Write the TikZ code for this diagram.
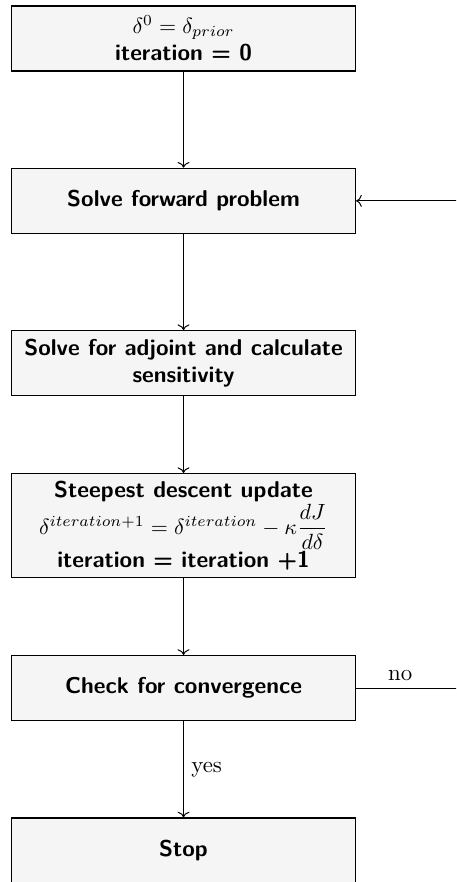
\documentclass[tikz,border=0pt]{standalone}
\usepackage{amsmath, amssymb}
\usepackage{tikz}
\usetikzlibrary{arrows.meta}

\begin{document}
\begin{tikzpicture}[
    font=\fontsize{10.4pt}{12.5pt}\selectfont,
    stepbox/.style={draw, line width=0.6pt, fill=black!4, text width=152pt, inner xsep=2.25pt,
                    minimum height=29.6pt, align=flush center, font=\fontsize{10.4pt}{12.5pt}\selectfont\sffamily\bfseries},
    flow/.style={->, line width=0.45pt}
]
    % frame of the page
    \useasboundingbox (0,0) rectangle (207.5pt,-401.3pt);
    \clip (0,0) rectangle (207.5pt,-401.3pt);

    % steps
    \node[stepbox] (init)  at (83.5pt,-17.5pt)  {$\delta^0 = \delta_{prior}$\\ iteration = 0};
    \node[stepbox] (fwd)   at (83.5pt,-91.4pt)  {Solve forward problem};
    \node[stepbox] (adj)   at (83.5pt,-165.3pt) {Solve for adjoint and calculate sensitivity};
    \node[stepbox] (upd)   at (83.5pt,-239.2pt) {Steepest descent update\\
        $\delta^{iteration+1} = \delta^{iteration} - \kappa\dfrac{dJ}{d\delta}$\\
        iteration = iteration +1};
    \node[stepbox] (check) at (83.5pt,-313.1pt) {Check for convergence};
    \node[stepbox] (stop)  at (83.5pt,-387.0pt) {Stop};

    % flow
    \draw[flow] (init) -- (fwd);
    \draw[flow] (fwd) -- (adj);
    \draw[flow] (adj) -- (upd);
    \draw[flow] (upd) -- (check);
    \draw[flow] (check) -- node[right] {yes} (stop);
    % loop back
    \draw[flow] (check.east) -- node[above, near start] {no} ++(80pt,0) |- (fwd.east);
\end{tikzpicture}
\end{document}
